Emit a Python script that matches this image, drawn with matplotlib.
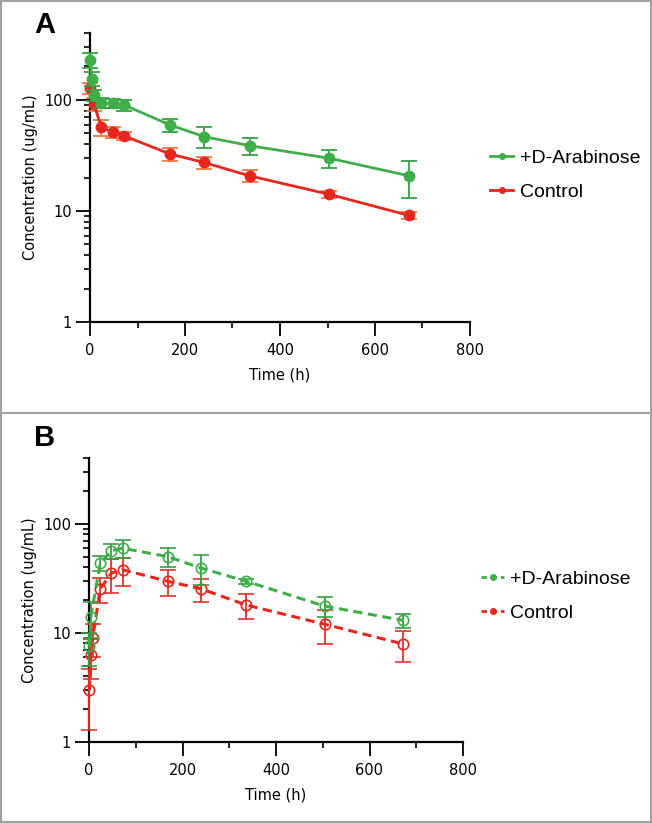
import matplotlib
matplotlib.use("Agg")
import matplotlib.pyplot as plt
from matplotlib.lines import Line2D
from matplotlib.patches import Rectangle
from matplotlib.ticker import FixedLocator, FixedFormatter, LogLocator, NullFormatter, MultipleLocator

# ---------------- data ----------------
# Panel A
a_ara_t = [0.5, 4, 8, 24, 48, 72, 168, 240, 336, 504, 672]
a_ara_y = [230, 155, 110, 94, 93, 90, 59.5, 46.7, 38.7, 29.8, 20.7]
a_ara_e = [35, 22, 12, 10, 9, 10, 8, 10, 7, 5.5, 7.5]

a_ctl_t = [0.5, 8, 24, 48, 72, 168, 240, 336, 504, 672]
a_ctl_y = [127, 92, 56.7, 51, 47.4, 32.6, 27.3, 20.7, 14.1, 9.1]
a_ctl_e = [15, 12, 9, 6, 4, 4.5, 3.3, 2.5, 1.0, 0.7]

# Panel B
b_ara_t = [1, 4, 24, 48, 72, 168, 240, 336, 504, 672]
b_ara_y = [7.5, 14, 43.5, 56.5, 59.6, 50, 39.2, 29.7, 17.6, 13.0]
b_ara_e = [2.5, 5, 7, 9, 11, 10, 12, 1.5, 3.7, 2.0]

b_ctl_t = [1, 4, 8, 24, 48, 72, 168, 240, 336, 504, 672]
b_ctl_y = [3.0, 6.3, 9.0, 25.3, 35.3, 37.9, 29.7, 25.3, 18.0, 12.0, 7.9]
b_ctl_e = [1.7, 2.5, 3.0, 6.5, 12, 11, 8, 6, 4.7, 4.1, 2.5]

series_labels = ["+D-Arabinose", "Control"]
x_ticks = [0, 200, 400, 600, 800]
y_ticks = [1, 10, 100]
y_tick_labels = ["1", "10", "100"]

# ---------------- style ----------------
GREEN = "#3fae49"
GREEN_E = "#35a044"
RED = "#e8261e"
RED_E_A = "#f27a3c"
RED_E_B = "#e8302a"

W, H = 652, 823
fig = plt.figure(figsize=(W / 100, H / 100), dpi=100)

def fx(px):
    return px / W

def fy(py):
    return 1 - py / H

def make_axes(left, right, top, bottom):
    return fig.add_axes([fx(left), fy(bottom), fx(right) - fx(left), fy(top) - fy(bottom)])

def style_axes(ax):
    ax.set_yscale("log")
    ax.set_xlim(0, 800)
    ax.set_ylim(1, 400)
    for s in ("top", "right"):
        ax.spines[s].set_visible(False)
    for s in ("left", "bottom"):
        ax.spines[s].set_linewidth(1.6)
        ax.spines[s].set_color("black")
    ax.xaxis.set_major_locator(FixedLocator(x_ticks))
    ax.xaxis.set_minor_locator(MultipleLocator(100))
    ax.yaxis.set_major_locator(FixedLocator(y_ticks))
    ax.yaxis.set_major_formatter(FixedFormatter(y_tick_labels))
    ax.yaxis.set_minor_locator(LogLocator(base=10, subs=range(2, 10)))
    ax.yaxis.set_minor_formatter(NullFormatter())
    ax.tick_params(which="major", direction="out", length=10, width=1.3,
                   labelsize=10.5, pad=3, colors="black")
    ax.tick_params(which="minor", direction="out", length=4, width=1.2)
    ax.tick_params(axis="x", which="major", pad=5)
    ax.set_xlabel("Time (h)", fontsize=10.5, labelpad=7)
    ax.set_ylabel("Concentration (ug/mL)", fontsize=10.5, labelpad=4)
    ax.patch.set_visible(False)

# ---------------- panel A ----------------
axA = make_axes(90, 470, 33, 322)
style_axes(axA)
axA.errorbar(a_ctl_t, a_ctl_y, yerr=a_ctl_e, color=RED, ecolor=RED_E_A, lw=2,
             marker="o", ms=7.5, mfc=RED, mec=RED, capsize=6, capthick=1.3,
             elinewidth=1.3, zorder=3, clip_on=False)
axA.errorbar(a_ara_t, a_ara_y, yerr=a_ara_e, color=GREEN, ecolor=GREEN_E, lw=2,
             marker="o", ms=7.5, mfc=GREEN, mec=GREEN, capsize=6, capthick=1.3,
             elinewidth=1.3, zorder=4, clip_on=False)

hA = [Line2D([], [], color=GREEN, lw=2, marker="o", ms=4),
      Line2D([], [], color=RED, lw=2, marker="o", ms=4)]
fig.legend(hA, series_labels, loc="center left",
           bbox_to_anchor=(fx(490), fy(175)), bbox_transform=fig.transFigure,
           frameon=False, prop={"family": "Liberation Sans", "size": 14},
           handlelength=1.2, handletextpad=0.35, labelspacing=0.82,
           borderpad=0, borderaxespad=0)

# ---------------- panel B ----------------
axB = make_axes(89, 463, 458, 742)
style_axes(axB)
axB.errorbar(b_ctl_t, b_ctl_y, yerr=b_ctl_e, color=RED, ecolor=RED_E_B, lw=2.2,
             ls=(0, (3, 1.8)), marker="o", ms=7.5, mfc="none", mec=RED, mew=1.2,
             capsize=6, capthick=1.3, elinewidth=1.3, zorder=3, clip_on=False)
axB.errorbar(b_ara_t, b_ara_y, yerr=b_ara_e, color=GREEN, ecolor=GREEN_E, lw=2.2,
             ls=(0, (3, 1.8)), marker="o", ms=7.5, mfc="none", mec=GREEN, mew=1.2,
             capsize=6, capthick=1.3, elinewidth=1.3, zorder=4, clip_on=False)

hB = [Line2D([], [], color=GREEN, lw=2, ls=(0, (2, 1.5)), marker="o", ms=4),
      Line2D([], [], color=RED, lw=2, ls=(0, (2, 1.5)), marker="o", ms=4)]
fig.legend(hB, series_labels, loc="center left",
           bbox_to_anchor=(fx(481), fy(596)), bbox_transform=fig.transFigure,
           frameon=False, prop={"family": "Liberation Sans", "size": 14},
           handlelength=1.2, handletextpad=0.3, labelspacing=0.82,
           borderpad=0, borderaxespad=0)

# panel letters
fig.text(fx(34), fy(25), "A", fontsize=21, fontweight="bold",
         family="Liberation Sans", va="center", ha="left")
fig.text(fx(34), fy(438), "B", fontsize=21, fontweight="bold",
         family="Liberation Sans", va="center", ha="left")

# frame and separator
fig.add_artist(Rectangle((0.001, 0.001), 0.998, 0.998, transform=fig.transFigure,
                         fill=False, edgecolor="#a0a0a0", lw=1.5))
fig.add_artist(Line2D([0, 1], [fy(413), fy(413)], transform=fig.transFigure,
                      color="#a0a0a0", lw=1.5))

fig.savefig("out.png", dpi=100)
